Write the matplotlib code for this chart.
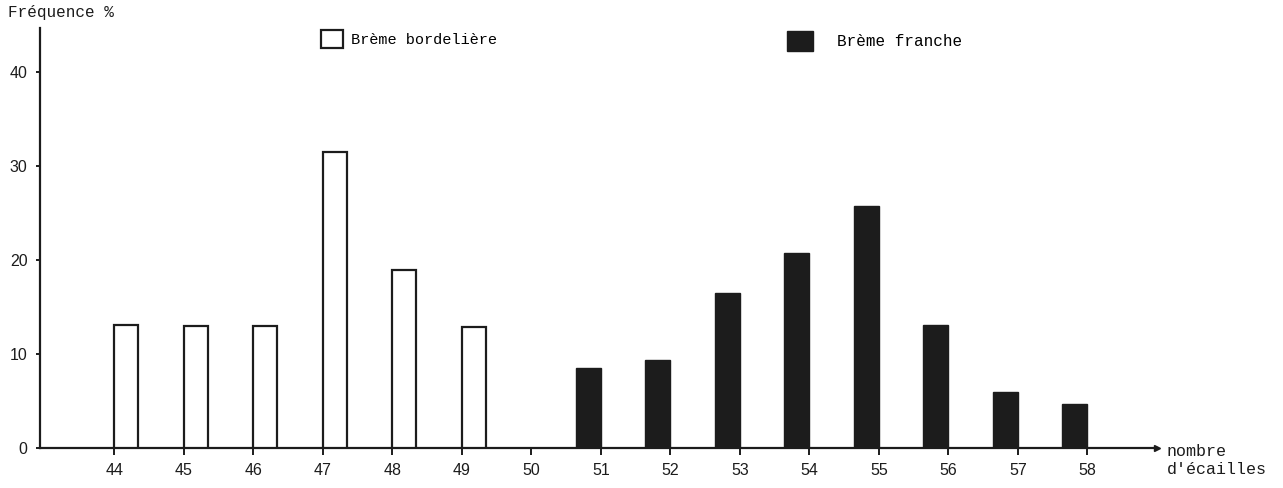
import matplotlib
matplotlib.use('Agg')
import matplotlib.pyplot as plt
from matplotlib.patches import Patch

# nombre d'écailles et fréquences (%)
ecailles = list(range(44, 59))
bord_x = [44, 45, 46, 47, 48, 49]
bord_freq = [13.1, 13.0, 13.0, 31.5, 18.9, 12.9]
franche_x = [51, 52, 53, 54, 55, 56, 57, 58]
franche_freq = [8.5, 9.4, 16.5, 20.8, 25.8, 13.1, 6.0, 4.7]
yticks = [0, 10, 20, 30, 40]

W, H = 1283, 488
mono = 'Liberation Mono'
sans = 'Liberation Sans'
ink = '#1c1c1c'

fig = plt.figure(figsize=(W / 100, H / 100), dpi=100)
ax = fig.add_axes([40 / W, 1 - 448 / H, (1157 - 40) / W, (448 - 28) / H])
ax.set_xlim(42.93, 59.0)
ax.set_ylim(0, 44.7)

ax.bar(bord_x, bord_freq, width=0.34, align='edge', facecolor='white',
       edgecolor=ink, linewidth=1.6, zorder=3)
ax.bar(franche_x, franche_freq, width=-0.36, align='edge', facecolor=ink,
       edgecolor=ink, linewidth=1.0, zorder=3)

for s in ['top', 'right']:
    ax.spines[s].set_visible(False)
for s in ['left', 'bottom']:
    ax.spines[s].set_linewidth(1.6)
    ax.spines[s].set_color(ink)

# arrow heads
ax.plot(1, 0, '>', color=ink, ms=5, transform=ax.get_yaxis_transform(), clip_on=False)
ax.plot(0, 1, '^', color=ink, ms=6, transform=ax.get_xaxis_transform(), clip_on=False)

ax.set_xticks(ecailles)
ax.set_xticklabels([str(v) for v in ecailles], fontfamily=sans, fontsize=11.5)
ax.set_yticks(yticks)
ax.set_yticklabels([str(v) for v in yticks], fontfamily=sans, fontsize=11.5)
ax.tick_params(axis='x', direction='out', length=5, width=1.4, color=ink, pad=6, labelcolor=ink)
ax.tick_params(axis='y', direction='out', length=3, width=1.4, color=ink, pad=6, labelcolor=ink)

fig.text(8 / W, 1 - 13 / H, 'Fréquence %', fontfamily=mono, fontsize=11.5,
         color=ink, va='center', ha='left')
fig.text(1167 / W, 1 - 451 / H, 'nombre', fontfamily=mono, fontsize=12,
         color=ink, va='center', ha='left')
fig.text(1167 / W, 1 - 469 / H, "d'écailles", fontfamily=mono, fontsize=12,
         color=ink, va='center', ha='left')

leg1 = ax.legend(handles=[Patch(facecolor='white', edgecolor=ink, linewidth=1.6)],
                 labels=['Brème bordelière'], loc='center left',
                 bbox_to_anchor=(321 / W, 1 - 39 / H), bbox_transform=fig.transFigure,
                 frameon=False, borderpad=0, borderaxespad=0, handlelength=1.45,
                 handleheight=1.5, handletextpad=0.5, prop={'family': mono, 'size': 11})
ax.add_artist(leg1)
ax.legend(handles=[Patch(facecolor=ink, edgecolor=ink)],
          labels=['Brème franche'], loc='center left',
          bbox_to_anchor=(787 / W, 1 - 41 / H), bbox_transform=fig.transFigure,
          frameon=False, borderpad=0, borderaxespad=0, handlelength=1.6,
          handleheight=1.6, handletextpad=1.5, prop={'family': mono, 'size': 11.5})

fig.savefig('out.png', dpi=100, facecolor='white')
